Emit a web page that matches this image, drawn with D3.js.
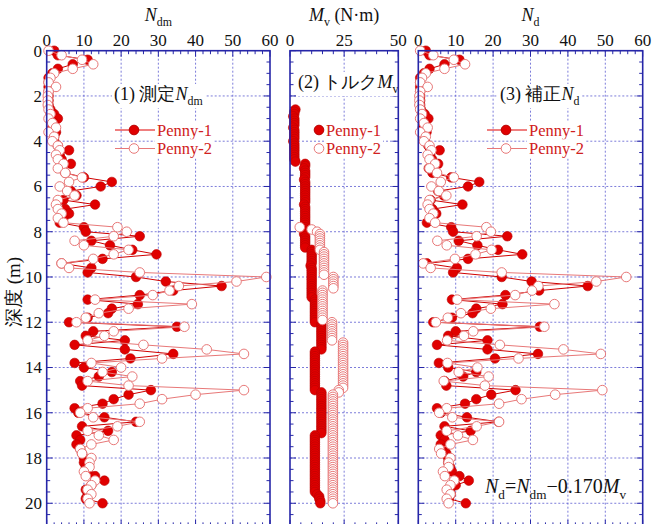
<!DOCTYPE html>
<html>
<head>
<meta charset="utf-8">
<script src="https://cdn.jsdelivr.net/npm/d3@7"></script>
<style>
body { margin: 0; background: #fff; }
</style>
</head>
<body>
<div id="chart"></div>
<script>
// depth of each Ndm / Nd reading (m)
const depth = [
    0, 0.2, 0.4, 0.6, 0.8, 1, 1.2, 1.4, 1.6, 1.8,
    2, 2.2, 2.4, 2.6, 2.8, 3, 3.2, 3.4, 3.6, 3.8,
    4, 4.2, 4.4, 4.6, 4.8, 5, 5.2, 5.4, 5.6, 5.8,
    6, 6.2, 6.4, 6.6, 6.8, 7, 7.2, 7.4, 7.6, 7.8,
    8, 8.2, 8.4, 8.6, 8.8, 9, 9.2, 9.4, 9.6, 9.8,
    10, 10.2, 10.4, 10.6, 10.8, 11, 11.2, 11.4, 11.6, 11.8,
    12, 12.2, 12.4, 12.6, 12.8, 13, 13.2, 13.4, 13.6, 13.8,
    14, 14.2, 14.4, 14.6, 14.8, 15, 15.2, 15.4, 15.6, 15.8,
    16, 16.2, 16.4, 16.6, 16.8, 17, 17.2, 17.4, 17.6, 17.8,
    18, 18.2, 18.4, 18.6, 18.8, 19, 19.2, 19.4, 19.6, 19.8,
    20
];

const ndmPenny1 = [
    2, 3, 11, 7, 3, 1.5, 0.5, 0.5, 0.5, 0.5,
    0.5, 0.5, 0.5, 1, 2, 3, 2, 1.5, 2.5, 2,
    2, 3, 6, 3.5, 4, 6.5, 4, 5, 10, 17.5,
    14.5, 6.5, 8, 4.5, 13, 5, 6, 4.5, 3.5, 10,
    10.5, 25, 12, 17, 23, 29.5, 15, 4, 12, 11,
    24, 32, 47, 34, 25, 11, 24.5, 17.5, 16.5, 11,
    6, 35, 12.5, 10.5, 21, 7.5, 21, 34, 22.5, 7.5,
    10, 17.5, 14, 9, 9.5, 28, 22, 18, 15, 7.5,
    8.5, 15.5, 24, 9.5, 16.5, 8, 9, 8, 9, 9.5,
    10, 10, 10.5, 11, 13, 15.5, 12, 10.5, 11, 10.5,
    15
];

const ndmPenny2 = [
    0.5, 4, 9.5, 12.5, 7, 2, 1, 0.5, 2.5, 0.5,
    0.3, 0.3, 0.3, 0.5, 1, 0.5, 1.5, 2.5, 0.5, 2,
    1.5, 3, 3.5, 2.5, 3, 4.5, 3, 5, 9.5, 6,
    3.5, 5.5, 7.5, 3, 2.5, 3, 4, 3, 4.5, 19,
    21.5, 18, 7.5, 10, 22, 18, 12.5, 4, 6, 25,
    59, 51, 35.5, 33, 28.5, 13, 39, 22, 14, 10.5,
    8, 37, 18, 15.5, 11, 26, 43, 53, 31, 12,
    20, 15, 23, 11, 22, 53, 40, 31, 25, 11,
    9, 12.5, 25, 19, 11, 14, 18, 12, 9, 9.5,
    12, 11.5, 11.5, 10, 10.5, 13, 12, 11, 12, 11,
    11.5
];

const ndPenny1 = [
    2, 3, 11, 7, 3, 1.5, 0.5, 0.5, 0.5, 0.5,
    0.5, 0.5, 0.5, 0.7, 1.7, 2.7, 1.7, 1.2, 2.2, 1.7,
    1.7, 2.7, 5.7, 3.2, 3.7, 5.3, 2.8, 3.8, 8.8, 16.3,
    13.3, 5.3, 6.8, 3.3, 11.8, 3.8, 4.8, 3.3, 2.3, 8.8,
    9.3, 23.8, 10.8, 15.8, 21.3, 27.8, 13.3, 2.3, 10.3, 9.3,
    22.3, 30.3, 45.3, 32.3, 23.3, 9, 22.5, 15.5, 14.5, 9,
    4, 32.5, 10, 8, 18.5, 5, 18.5, 32, 20.5, 5.5,
    8, 15.5, 12, 7, 7.5, 26, 19.5, 15.5, 12.5, 5,
    6, 13, 21.5, 7, 14, 6, 7, 6, 7, 7.5,
    8, 8, 8.5, 9, 11, 13.5, 10, 8.5, 8.7, 8.2,
    12.7
];

const ndPenny2 = [
    0.5, 4, 9.5, 12.5, 7, 2, 1, 0.5, 2.5, 0.5,
    0.3, 0.3, 0.3, 0.5, 1, 0.5, 1.5, 2.5, 0.5, 2,
    1.5, 3, 3.5, 2.5, 3, 4.5, 3, 5, 9.5, 6,
    3.5, 5.5, 7.5, 3, 2.5, 3, 4, 3, 4.5, 18.2,
    19.4, 15.6, 5.1, 7.6, 19.6, 15.3, 9.8, 1.3, 3.3, 22.3,
    55.6, 47.6, 32.1, 30.4, 25.9, 10.4, 36.4, 19.4, 11.4, 7.9,
    4.7, 33.7, 14.7, 12.2, 7.7, 21.8, 38.8, 48.8, 26.8, 7.8,
    15.8, 10.8, 18.8, 6.8, 17.8, 49.2, 36.6, 27.6, 21.6, 7.6,
    5.6, 9.1, 21.6, 15.6, 7.6, 10.6, 14.6, 8.6, 5.6, 6.1,
    8.6, 8.1, 8.1, 6.6, 7.1, 9.6, 8.6, 7.6, 8.6, 7.6,
    8.1
];

// torque readings (N·m), denser depth spacing
const mvDepth1 = [
    2.6, 2.7, 2.8, 2.9,
    3, 3.1, 3.2, 3.3, 3.4, 3.5, 3.6, 3.7, 3.8, 3.9,
    4, 4.1, 4.2, 4.3, 4.4, 4.5, 4.6, 4.7, 4.8, 4.9,
    5, 5.1, 5.2, 5.3, 5.4, 5.5, 5.6, 5.7, 5.8, 5.9,
    6, 6.1, 6.2, 6.3, 6.4, 6.5, 6.6, 6.7, 6.8, 6.9,
    7, 7.1, 7.2, 7.3, 7.4, 7.5, 7.6, 7.7, 7.8, 7.9,
    8, 8.1, 8.2, 8.3, 8.4, 8.5, 8.6, 8.7, 8.8, 8.9,
    9, 9.1, 9.2, 9.3, 9.4, 9.5, 9.6, 9.7, 9.8, 9.9,
    10, 10.1, 10.2, 10.3, 10.4, 10.5, 10.6, 10.7, 10.8, 10.9,
    11, 11.1, 11.2, 11.3, 11.4, 11.5, 11.6, 11.7, 11.8, 11.9,
    12, 12.1, 12.2, 12.3, 12.4, 12.5, 12.6, 12.7, 12.8, 12.9,
    13, 13.1, 13.2, 13.3, 13.4, 13.5, 13.6, 13.7, 13.8, 13.9,
    14, 14.1, 14.2, 14.3, 14.4, 14.5, 14.6, 14.7, 14.8, 14.9,
    15, 15.1, 15.2, 15.3, 15.4, 15.5, 15.6, 15.7, 15.8, 15.9,
    16, 16.1, 16.2, 16.3, 16.4, 16.5, 16.6, 16.7, 16.8, 16.9,
    17, 17.1, 17.2, 17.3, 17.4, 17.5, 17.6, 17.7, 17.8, 17.9,
    18, 18.1, 18.2, 18.3, 18.4, 18.5, 18.6, 18.7, 18.8, 18.9,
    19, 19.1, 19.2, 19.3, 19.4, 19.5, 19.6, 19.7, 19.8, 19.9,
    20
];

const mvPenny1 = [
    2.5, 2, 2, 1.5,
    2, 2, 2, 2, 1.5, 2, 2, 2, 2, 2,
    1.5, 2, 2, 2, 2, 2, 2, 2, 2, 2.5,
    7, 7, 6.5, 7, 7, 7, 7, 6.5, 7, 7,
    7, 7, 7, 7, 7, 7, 7, 7, 6.5, 7,
    7, 7, 7, 7, 7, 7, 7, 7, 7, 7,
    7, 6.5, 7, 7, 7, 7, 7, 7, 10, 10,
    10, 10, 10, 10, 10, 9.5, 10, 10, 10, 10,
    10, 10, 10, 10, 10, 10, 10, 10, 10, 10,
    11.5, 11.5, 11.5, 11.5, 11.5, 11.5, 11.5, 11.5, 11.5, 11.5,
    11.5, 14.5, 14.5, 14.5, 14.5, 14.5, 14.5, 14.5, 14.5, 14.5,
    14.5, 14.5, 14.5, 11.5, 11.5, 11.5, 11.5, 11.5, 11.5, 11.5,
    11.5, 11.5, 11.5, 11.5, 11.5, 11.5, 11.5, 11.5, 11.5, 11.5,
    11.5, 14.5, 14.5, 14.5, 14.5, 14.5, 14.5, 14.5, 14.5, 14.5,
    14.5, 14.5, 14.5, 14.5, 14.5, 14.5, 14.5, 14.5, 14.5, 14.5,
    11.5, 11.5, 11.5, 11.5, 11.5, 11.5, 11.5, 11.5, 11.5, 11.5,
    11.5, 11.5, 11.5, 11.5, 11.5, 11.5, 11.5, 11.5, 11.5, 11.5,
    11.5, 11.5, 11.5, 11.5, 11.5, 11.5, 12.5, 13.5, 13.5, 14,
    14
];

const mvDepth2 = [
    7.8, 7.9,
    8, 8.1, 8.2, 8.3, 8.4, 8.5, 8.6, 8.7, 8.8, 8.9,
    9, 9.1, 9.2, 9.3, 9.4, 9.5, 9.6, 9.7, 9.8, 9.9,
    10, 10.1, 10.2, 10.3, 10.4, 10.5, 10.6, 10.7, 10.8, 10.9,
    11, 11.1, 11.2, 11.3, 11.4, 11.5, 11.6, 11.7, 11.8, 11.9,
    12, 12.1, 12.2, 12.3, 12.4, 12.5, 12.6, 12.7, 12.8, 12.9,
    13, 13.1, 13.2, 13.3, 13.4, 13.5, 13.6, 13.7, 13.8, 13.9,
    14, 14.1, 14.2, 14.3, 14.4, 14.5, 14.6, 14.7, 14.8, 14.9,
    15, 15.1, 15.2, 15.3, 15.4, 15.5, 15.6, 15.7, 15.8, 15.9,
    16, 16.1, 16.2, 16.3, 16.4, 16.5, 16.6, 16.7, 16.8, 16.9,
    17, 17.1, 17.2, 17.3, 17.4, 17.5, 17.6, 17.7, 17.8, 17.9,
    18, 18.1, 18.2, 18.3, 18.4, 18.5, 18.6, 18.7, 18.8, 18.9,
    19, 19.1, 19.2, 19.3, 19.4, 19.5, 19.6, 19.7, 19.8, 19.9,
    20
];

const mvPenny2 = [
    4.5, 10,
    12.5, 13.8, 13.8, 13.8, 13.8, 13.8, 13.8, 13.8, 13.8, 15.7,
    15.7, 15.7, 15.7, 15.7, 15.7, 15.7, 15.7, 15.7, 15.7, 15.7,
    20, 20, 20, 20, 20, 20, 15, 15, 15, 15,
    15, 15, 15, 15, 15, 15, 15, 15, 15, 15,
    19.4, 19.4, 19.4, 19.4, 19.4, 19.4, 19.4, 19.4, 19.4, 24.5,
    24.5, 24.5, 24.5, 24.5, 24.5, 24.5, 24.5, 24.5, 24.5, 24.5,
    24.5, 24.5, 24.5, 24.5, 24.5, 24.5, 24.5, 24.5, 24.5, 24.5,
    22.5, 22.5, 19.8, 19.8, 19.8, 19.8, 19.8, 19.8, 19.8, 19.8,
    19.8, 19.8, 19.8, 19.8, 19.8, 19.8, 19.8, 19.8, 19.8, 19.8,
    19.8, 19.8, 19.8, 19.8, 19.8, 19.8, 19.8, 19.8, 19.8, 19.8,
    19.8, 19.8, 19.8, 19.8, 19.8, 19.8, 19.8, 19.8, 19.8, 19.8,
    19.8, 19.8, 19.8, 19.8, 19.8, 19.8, 19.8, 19.8, 19.8, 19.8,
    19.8
];

const seriesNames = ['Penny-1', 'Penny-2'];
const nTicks = [0, 10, 20, 30, 40, 50, 60];
const mvTicks = [0, 25, 50];
const depthTicks = [0, 2, 4, 6, 8, 10, 12, 14, 16, 18, 20];

const frameColor = '#2626a8';
const gridColor = '#5c5cd0';
const red = '#e00000';
const pink = '#e87878';
const textRed = '#d02020';

const svg = d3.select('#chart').append('svg')
    .attr('width', 653)
    .attr('height', 524)
    .attr('font-family', 'Liberation Serif');

const y = d3.scaleLinear().domain([0, 21]).range([50.7, 525.9]);

function pairs(ds, vs) {
    const out = [];
    for (let i = 0; i < Math.min(ds.length, vs.length); i++) {
        out.push({ d: ds[i], v: vs[i] });
    }
    return out;
}

function rich(g, x, yy, parts, size, anchor, color) {
    const t = g.append('text')
        .attr('x', x)
        .attr('y', yy)
        .attr('font-size', size)
        .attr('text-anchor', anchor || 'start')
        .attr('fill', color || '#111');
    let shift = 0;
    parts.forEach(function(p) {
        const s = t.append('tspan').text(p.t);
        const want = p.sub ? size * 0.28 : 0;
        if (want !== shift) {
            s.attr('dy', want - shift);
            shift = want;
        }
        if (p.sub) s.attr('font-size', size * 0.66);
        if (p.it) s.style('font-style', 'italic');
    });
    return t;
}

function whiteBehind(g, t, padX, padY) {
    const b = t.node().getBBox();
    g.insert('rect', function() { return t.node(); })
        .attr('x', b.x - padX)
        .attr('y', b.y - padY)
        .attr('width', b.width + 2 * padX)
        .attr('height', b.height + 2 * padY)
        .attr('fill', '#fff');
}

function drawPanel(opts) {
    const x = d3.scaleLinear().domain(opts.domain).range(opts.range);
    const g = svg.append('g');
    const x0 = opts.range[0], x1 = opts.range[1];
    const y0 = y(0), y1 = y(21);

    // grid
    g.selectAll('line.vgrid')
        .data(opts.ticks.slice(1, -1))
        .join('line')
        .attr('x1', function(d) { return x(d); })
        .attr('x2', function(d) { return x(d); })
        .attr('y1', y0).attr('y2', y1)
        .attr('stroke', gridColor).attr('stroke-width', 0.8)
        .attr('stroke-dasharray', '2,2');
    g.selectAll('line.hgrid')
        .data(depthTicks.slice(1))
        .join('line')
        .attr('x1', x0).attr('x2', x1)
        .attr('y1', function(d) { return y(d); })
        .attr('y2', function(d) { return y(d); })
        .attr('stroke', gridColor).attr('stroke-width', 0.8)
        .attr('stroke-dasharray', '2,2');

    // ticks (inside, all four sides)
    const xMinor = d3.range(opts.domain[0], opts.domain[1] + 0.001, opts.minor);
    const yMinor = d3.range(0, 21.001, 0.5);
    const tk = g.append('g').attr('stroke', frameColor).attr('stroke-width', 1);
    xMinor.forEach(function(v) {
        const len = opts.ticks.indexOf(v) >= 0 ? 6 : 3.5;
        tk.append('line').attr('x1', x(v)).attr('x2', x(v)).attr('y1', y0).attr('y2', y0 + len);
        tk.append('line').attr('x1', x(v)).attr('x2', x(v)).attr('y1', y1).attr('y2', y1 - len);
    });
    yMinor.forEach(function(v) {
        const len = v % 2 === 0 ? 6 : 3.5;
        tk.append('line').attr('x1', x0).attr('x2', x0 + len).attr('y1', y(v)).attr('y2', y(v));
        tk.append('line').attr('x1', x1).attr('x2', x1 - len).attr('y1', y(v)).attr('y2', y(v));
    });

    // tick labels on top
    g.selectAll('text.xt')
        .data(opts.ticks)
        .join('text')
        .attr('x', function(d) { return x(d); })
        .attr('y', 46)
        .attr('text-anchor', 'middle')
        .attr('font-size', 17)
        .attr('fill', '#111')
        .text(function(d) { return d; });

    rich(g, (x0 + x1) / 2, 21, opts.title, 18, 'middle');

    // panel label
    const lab = rich(g, opts.label.x, opts.label.y, opts.label.parts, 18, 'start');
    whiteBehind(g, lab, 2, 0);

    // legend
    const leg = g.append('g');
    seriesNames.forEach(function(name, i) {
        const ly = opts.legend.y + i * 18.5;
        const t = leg.append('text')
            .attr('x', opts.legend.textX)
            .attr('y', ly)
            .attr('dy', '0.35em')
            .attr('font-size', 16.5)
            .attr('fill', textRed)
            .text(name);
        whiteBehind(leg, t, 2, 0);
        if (opts.legend.line) {
            leg.append('line')
                .attr('x1', opts.legend.lineX[0]).attr('x2', opts.legend.lineX[1])
                .attr('y1', ly).attr('y2', ly)
                .attr('stroke', i === 0 ? red : pink).attr('stroke-width', 1);
        }
        leg.append('circle')
            .attr('cx', opts.legend.markX).attr('cy', ly)
            .attr('r', 4.8)
            .attr('fill', i === 0 ? red : '#fff')
            .attr('stroke', i === 0 ? '#b80000' : pink)
            .attr('stroke-width', 1);
    });

    // data
    const line = d3.line()
        .x(function(p) { return x(p.v); })
        .y(function(p) { return y(p.d); });
    opts.series.forEach(function(s, i) {
        if (opts.lines) {
            g.append('path')
                .datum(s)
                .attr('d', line)
                .attr('fill', 'none')
                .attr('stroke', i === 0 ? '#d00000' : pink)
                .attr('stroke-width', 1);
        }
        g.append('g')
            .selectAll('circle')
            .data(s)
            .join('circle')
            .attr('cx', function(p) { return x(p.v); })
            .attr('cy', function(p) { return y(p.d); })
            .attr('r', 4.8)
            .attr('fill', i === 0 ? red : '#fff')
            .attr('stroke', i === 0 ? '#b80000' : pink)
            .attr('stroke-width', i === 0 ? 0.6 : 1);
    });

    // frame
    g.append('rect')
        .attr('x', x0).attr('y', y0)
        .attr('width', x1 - x0).attr('height', y1 - y0)
        .attr('fill', 'none')
        .attr('stroke', frameColor)
        .attr('stroke-width', 1.6);

    return g;
}

drawPanel({
    domain: [0, 60], range: [46.7, 270], ticks: nTicks, minor: 2,
    title: [{ t: 'N', it: true }, { t: 'dm', sub: true }],
    label: { x: 114, y: 100, parts: [{ t: '(1) 測定' }, { t: 'N', it: true }, { t: 'dm', sub: true }] },
    legend: { y: 130, textX: 157, markX: 134, lineX: [115, 155], line: true },
    lines: true,
    series: [pairs(depth, ndmPenny1), pairs(depth, ndmPenny2)]
});

drawPanel({
    domain: [0, 50], range: [290, 398.3], ticks: mvTicks, minor: 5,
    title: [{ t: 'M', it: true }, { t: 'v', sub: true }, { t: ' (N·m)' }],
    label: { x: 298, y: 88, parts: [{ t: '(2) トルク' }, { t: 'M', it: true }, { t: 'v', sub: true }] },
    legend: { y: 130, textX: 326, markX: 319, line: false },
    lines: false,
    series: [pairs(mvDepth1, mvPenny1), pairs(mvDepth2, mvPenny2)]
});

const p3 = drawPanel({
    domain: [0, 60], range: [418.3, 642.7], ticks: nTicks, minor: 2,
    title: [{ t: 'N', it: true }, { t: 'd', sub: true }],
    label: { x: 500, y: 100, parts: [{ t: '(3) 補正' }, { t: 'N', it: true }, { t: 'd', sub: true }] },
    legend: { y: 130, textX: 529, markX: 506, lineX: [487, 527], line: true },
    lines: true,
    series: [pairs(depth, ndPenny1), pairs(depth, ndPenny2)]
});

rich(p3, 485, 493, [
    { t: 'N', it: true }, { t: 'd', sub: true }, { t: '=' },
    { t: 'N', it: true }, { t: 'dm', sub: true }, { t: '−0.170' },
    { t: 'M', it: true }, { t: 'v', sub: true }
], 20, 'start');

// depth axis labels (left panel only)
svg.append('g')
    .selectAll('text')
    .data(depthTicks)
    .join('text')
    .attr('x', 42)
    .attr('y', function(d) { return y(d); })
    .attr('dy', '0.35em')
    .attr('text-anchor', 'end')
    .attr('font-size', 17)
    .attr('fill', '#111')
    .text(function(d) { return d; });

svg.append('text')
    .attr('transform', 'translate(20,292) rotate(-90)')
    .attr('text-anchor', 'middle')
    .attr('font-size', 19)
    .attr('fill', '#111')
    .text('深度 (m)');
</script>
</body>
</html>
